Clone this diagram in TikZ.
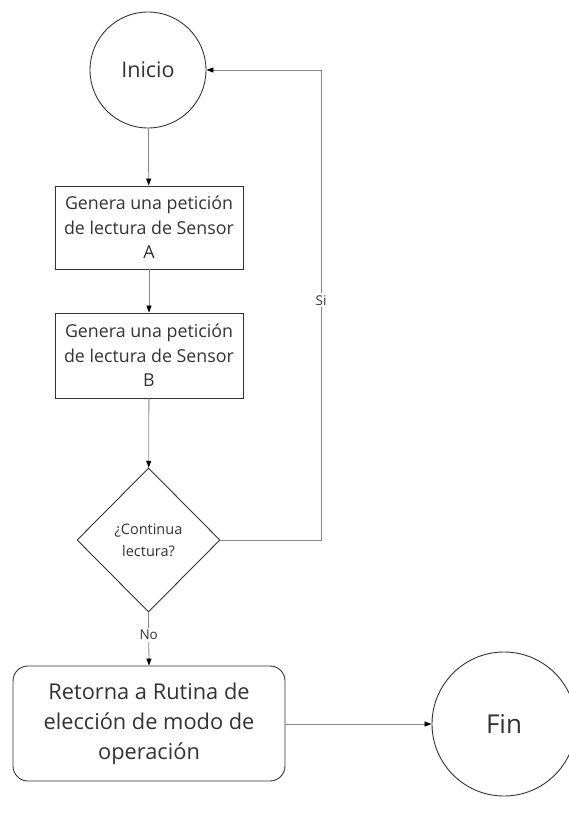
\documentclass[tikz,border=0pt]{standalone}
\usepackage{fontspec}
\setmainfont{Open Sans}
\usetikzlibrary{shapes.geometric,arrows.meta}
\definecolor{shapeline}{HTML}{333333}
\definecolor{conn}{HTML}{888888}
\definecolor{txt}{HTML}{333333}
\tikzset{
  termcircle/.style={circle,draw=shapeline,line width=0.9pt,text=txt,inner sep=0pt},
  procbox/.style={rectangle,draw=shapeline,line width=0.9pt,text=txt,align=center,inner sep=0pt,
    minimum width=188pt,font=\fontsize{17.8}{24.5}\selectfont},
  decision/.style={diamond,draw=shapeline,line width=0.9pt,text=txt,align=center,inner sep=0pt,
    minimum width=143pt,minimum height=144pt,font=\fontsize{14.5}{22}\selectfont},
  roundbox/.style={rectangle,rounded corners=15pt,draw=shapeline,line width=0.9pt,text=txt,align=center,
    inner sep=0pt,minimum width=272pt,minimum height=115pt,font=\fontsize{21.8}{30}\selectfont},
  conn/.style={draw=conn,line width=0.8pt,-{Triangle[length=7pt,width=5pt,color=black]}},
  connlabel/.style={fill=white,text=txt,inner sep=2pt,font=\fontsize{13.5}{16}\selectfont}
}
\begin{document}
\begin{tikzpicture}[x=1pt,y=-1pt]
\useasboundingbox (0,0) rectangle (569,832);
\node[termcircle,minimum size=116pt,font=\fontsize{21.5}{25}\selectfont] (ini) at (148,70) {Inicio};
\node[procbox,minimum height=83pt] (a) at (149,227.5) {Genera una petición\\de lectura de Sensor\\A};
\node[procbox,minimum height=85pt] (b) at (149,355.5) {Genera una petición\\de lectura de Sensor\\B};
\node[decision] (d) at (148.5,540) {¿Continua\\lectura?};
\node[roundbox] (r) at (149,723.5) {Retorna a Rutina de\\elección de modo de\\operación};
\node[termcircle,minimum size=144pt,font=\fontsize{26}{30}\selectfont] (fin) at (504,724) {Fin};
\coordinate (c1) at (321,540);
\coordinate (c2) at (321,70);
\draw[conn] (ini) -- (a);
\draw[conn] (a) -- (b);
\draw[conn] (b) -- (d);
\draw[conn] (d.east) -- (c1) -- node[connlabel,pos=0.51]{Si} (c2) -- (ini.east);
\draw[conn] (d.south) -- node[connlabel,pos=0.42]{No} (r.north);
\draw[conn] (r.east |- fin.west) -- (fin.west);
\end{tikzpicture}
\end{document}
